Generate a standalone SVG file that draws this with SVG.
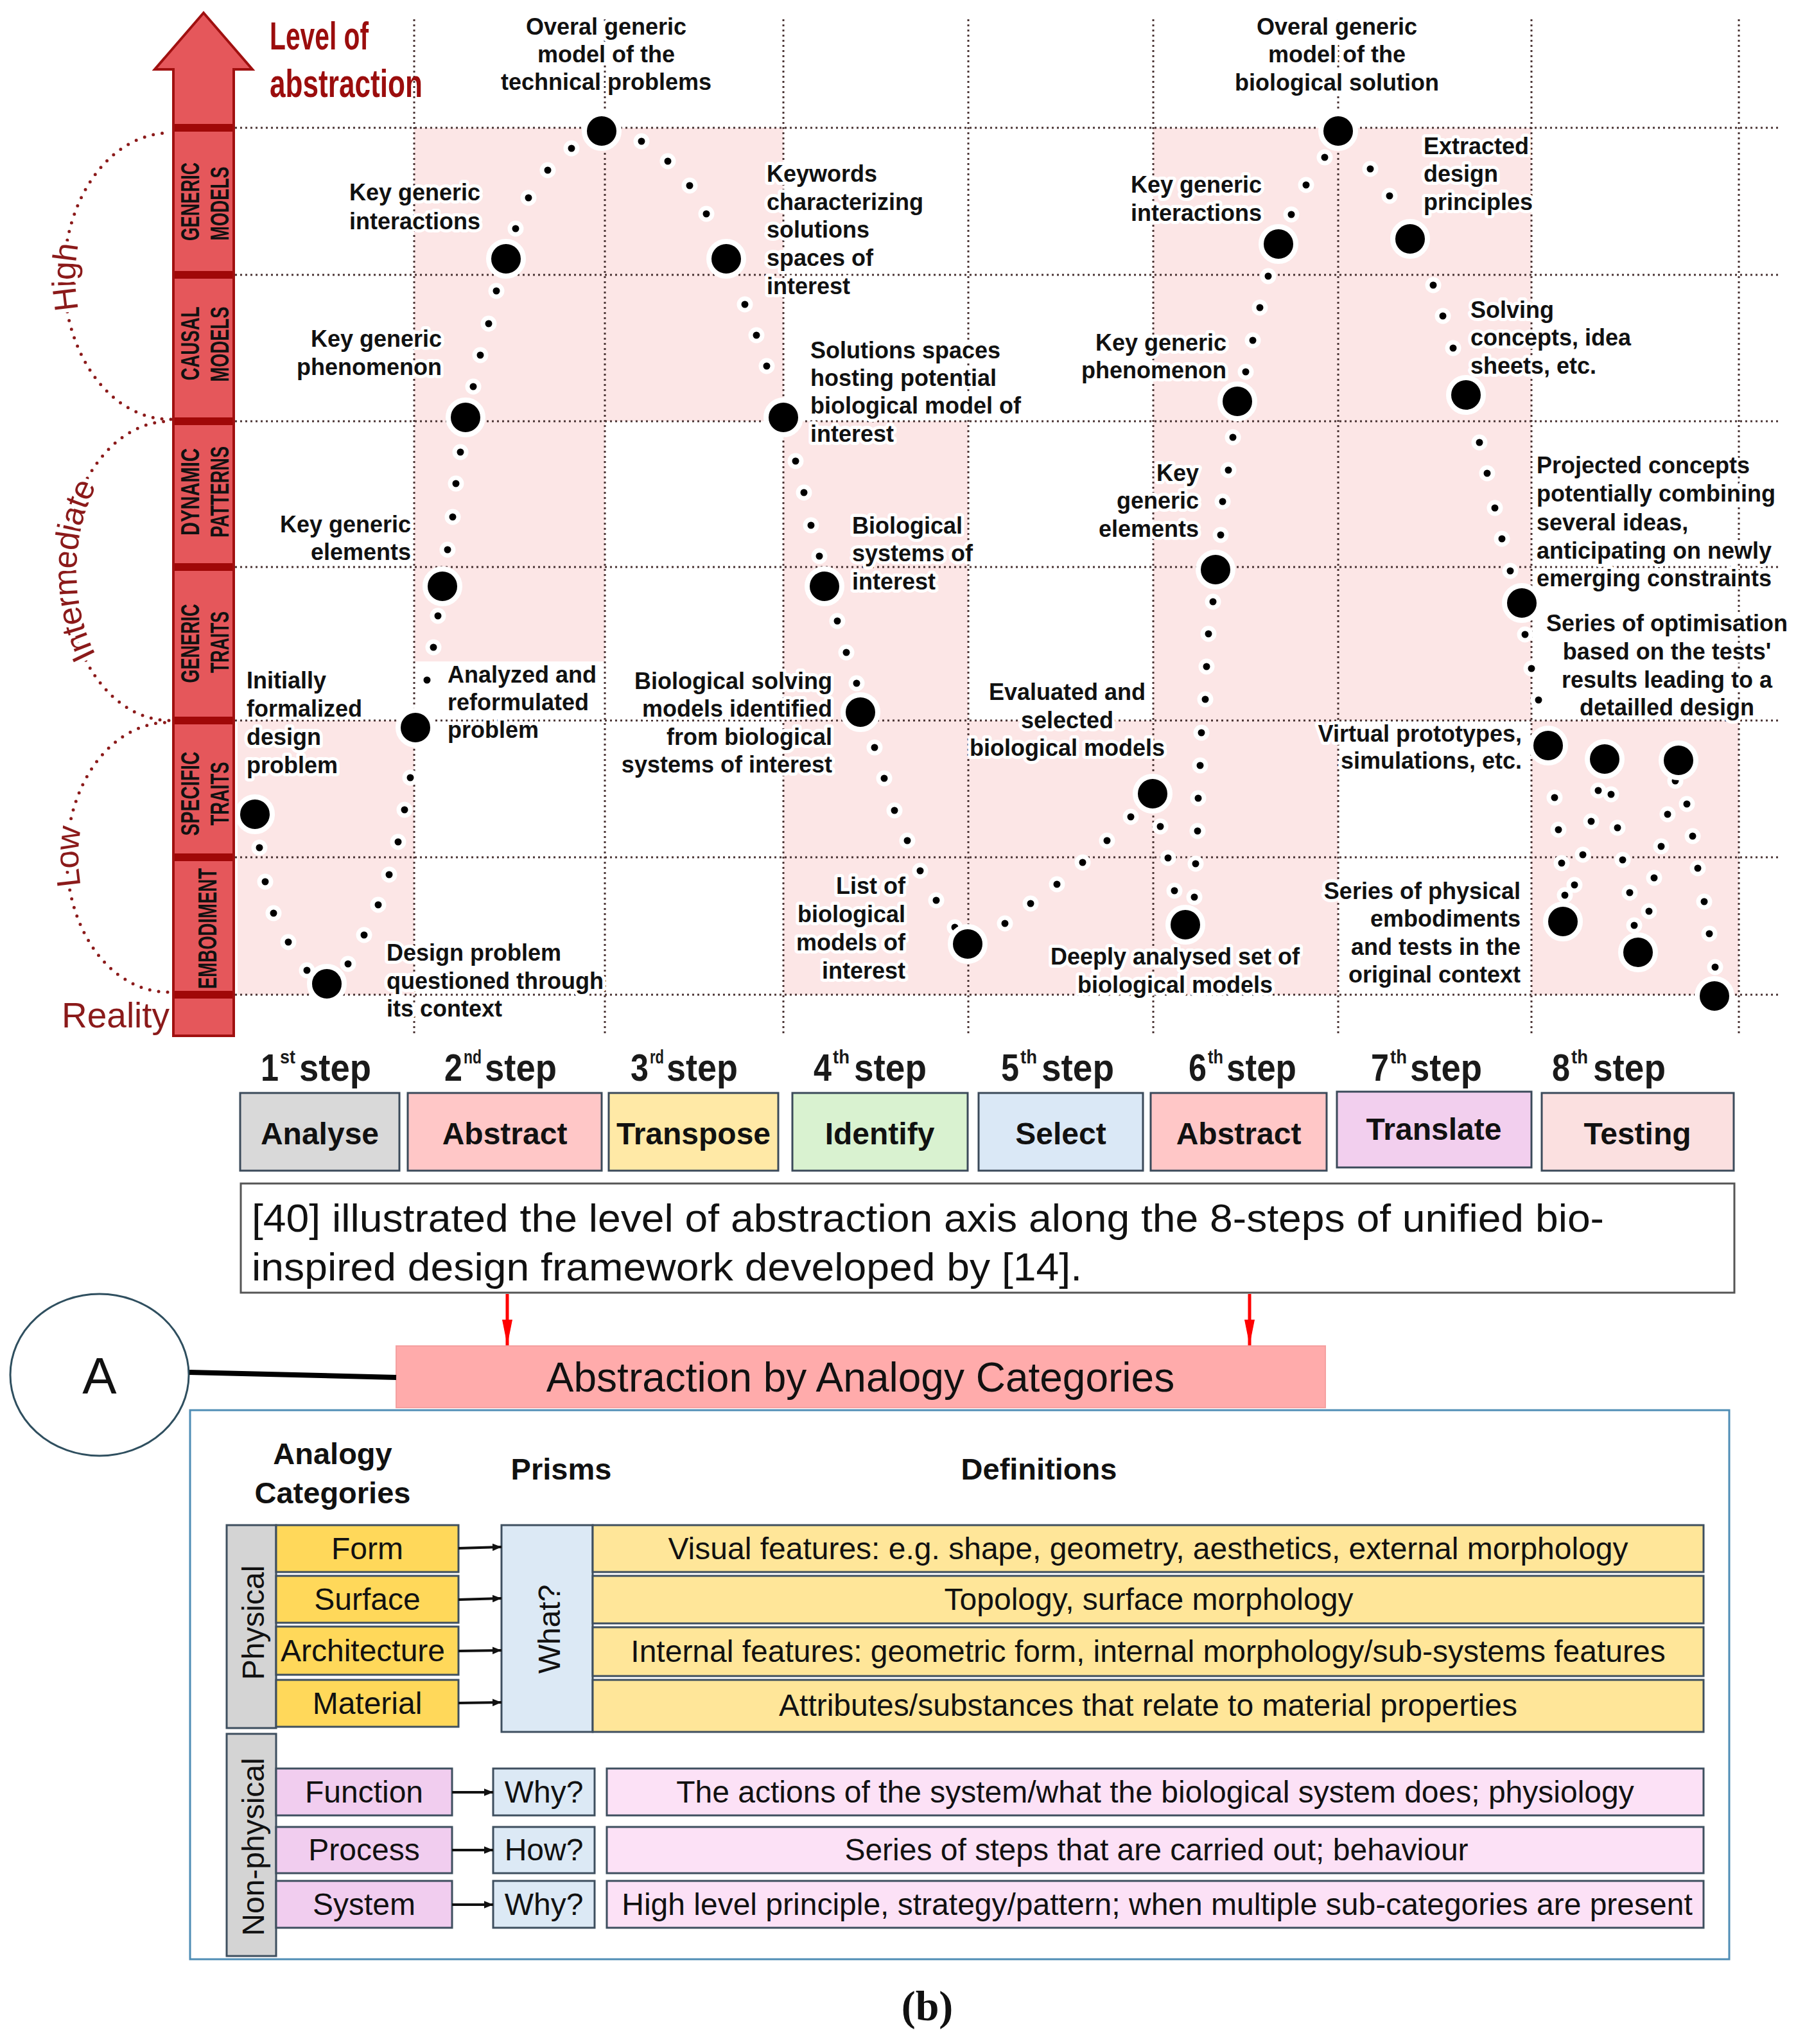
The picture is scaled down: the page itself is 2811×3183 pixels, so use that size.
<svg xmlns="http://www.w3.org/2000/svg" width="2811" height="3183" viewBox="0 0 2811 3183">
<defs>
<style>
.pink{fill:#fce6e6}
.grid{stroke:#4a3434;stroke-width:3;stroke-dasharray:3 5;fill:none}
.bd{fill:#000;stroke:#fff;stroke-width:8}
.sd{fill:#000;stroke:#fff;stroke-width:7}
.lb{font-family:"Liberation Sans",Arial,sans-serif;font-weight:bold;font-size:36px;fill:#111;stroke:#fff;stroke-width:10;paint-order:stroke;stroke-linejoin:round}
.arc{fill:none;stroke:#8b1a1a;stroke-width:5;stroke-linecap:round;stroke-dasharray:0 14}
.lvl{font-family:"Liberation Sans",Arial,sans-serif;font-size:52px;fill:#8b1a1a;stroke:#fff;stroke-width:12;paint-order:stroke}
.bar{font-family:"Liberation Sans",Arial,sans-serif;font-weight:bold;font-size:40px;fill:#111}
.band{fill:#a00808}
.st{font-family:"Liberation Sans",Arial,sans-serif;font-weight:bold;font-size:60px;fill:#1a1a1a}
.sup{font-family:"Liberation Sans",Arial,sans-serif;font-weight:bold;font-size:30px;fill:#1a1a1a}
.sbox{stroke:#3b4a5a;stroke-width:3}
.stx{font-family:"Liberation Sans",Arial,sans-serif;font-weight:bold;font-size:48px;fill:#111;text-anchor:middle}
.tx{font-family:"Liberation Sans",Arial,sans-serif;font-size:48px;fill:#111;text-anchor:middle}
.hd{font-family:"Liberation Sans",Arial,sans-serif;font-weight:bold;font-size:47px;fill:#111;text-anchor:middle}
.bx{stroke:#3e4f5f;stroke-width:3}
.cy{fill:#ffd85a}
.dy{fill:#ffe699}
.cp{fill:#f1cdef}
.dp{fill:#fce1f6}
.pb{fill:#dce9f5}
.gr{fill:#d4d4d4}
</style>
<marker id="ar" viewBox="0 0 12 10" refX="12" refY="5" markerWidth="14" markerHeight="12" markerUnits="userSpaceOnUse" orient="auto"><path d="M0,0 L12,5 L0,10 z" fill="#111"/></marker>
<marker id="rar" viewBox="0 0 40 20" refX="40" refY="10" markerWidth="40" markerHeight="22" markerUnits="userSpaceOnUse" orient="auto"><path d="M0,2 L40,10 L0,18 z" fill="#f00"/></marker>
</defs>
<rect width="2811" height="3183" fill="#fff"/>

<g id="shading">
<rect class="pink" x="370" y="1122" width="275" height="427"/>
<rect class="pink" x="645" y="199" width="297" height="831"/>
<rect class="pink" x="942" y="199" width="278" height="457"/>
<rect class="pink" x="1220" y="656" width="288" height="893"/>
<rect class="pink" x="1508" y="1122" width="288" height="427"/>
<rect class="pink" x="1796" y="199" width="288" height="1350"/>
<rect class="pink" x="2084" y="199" width="301" height="923"/>
<rect class="pink" x="2385" y="1122" width="323" height="427"/>
</g>

<g id="grid">
<path class="grid" d="M645 30V1614M942 30V1614M1220 30V1614M1508 30V1614M1796 30V1614M2084 30V1614M2385 30V1614M2708 30V1614"/>
<path class="grid" d="M366 199H2772M366 428H2772M366 656H2772M366 883H2772M366 1122H2772M366 1335H2772M366 1549H2772"/>
</g>

<g id="axis">
<polygon points="317,20 393,108 364,108 364,1613 270,1613 270,108 241,108" fill="#e5575b" stroke="#a01010" stroke-width="4"/>
<rect class="band" x="272" y="193" width="90" height="12"/>
<rect class="band" x="272" y="422" width="90" height="12"/>
<rect class="band" x="272" y="650" width="90" height="12"/>
<rect class="band" x="272" y="877" width="90" height="12"/>
<rect class="band" x="272" y="1116" width="90" height="12"/>
<rect class="band" x="272" y="1329" width="90" height="12"/>
<rect class="band" x="272" y="1543" width="90" height="12"/>
<text class="bar" transform="translate(310,314) rotate(-90)" text-anchor="middle" textLength="122" lengthAdjust="spacingAndGlyphs">GENERIC</text>
<text class="bar" transform="translate(356,317) rotate(-90)" text-anchor="middle" textLength="115" lengthAdjust="spacingAndGlyphs">MODELS</text>
<text class="bar" transform="translate(310,535) rotate(-90)" text-anchor="middle" textLength="115" lengthAdjust="spacingAndGlyphs">CAUSAL</text>
<text class="bar" transform="translate(356,536) rotate(-90)" text-anchor="middle" textLength="117" lengthAdjust="spacingAndGlyphs">MODELS</text>
<text class="bar" transform="translate(310,766) rotate(-90)" text-anchor="middle" textLength="136" lengthAdjust="spacingAndGlyphs">DYNAMIC</text>
<text class="bar" transform="translate(356,766) rotate(-90)" text-anchor="middle" textLength="142" lengthAdjust="spacingAndGlyphs">PATTERNS</text>
<text class="bar" transform="translate(310,1002) rotate(-90)" text-anchor="middle" textLength="123" lengthAdjust="spacingAndGlyphs">GENERIC</text>
<text class="bar" transform="translate(356,1000) rotate(-90)" text-anchor="middle" textLength="96" lengthAdjust="spacingAndGlyphs">TRAITS</text>
<text class="bar" transform="translate(310,1236) rotate(-90)" text-anchor="middle" textLength="131" lengthAdjust="spacingAndGlyphs">SPECIFIC</text>
<text class="bar" transform="translate(356,1236) rotate(-90)" text-anchor="middle" textLength="99" lengthAdjust="spacingAndGlyphs">TRAITS</text>
<text class="bar" transform="translate(337,1446) rotate(-90)" text-anchor="middle" textLength="188" lengthAdjust="spacingAndGlyphs">EMBODIMENT</text>
<text x="420" y="77" font-family="Liberation Sans, Arial, sans-serif" font-weight="bold" font-size="62" fill="#9b0d0d" textLength="154" lengthAdjust="spacingAndGlyphs">Level of</text>
<text x="420" y="151" font-family="Liberation Sans, Arial, sans-serif" font-weight="bold" font-size="62" fill="#9b0d0d" textLength="238" lengthAdjust="spacingAndGlyphs">abstraction</text>
<path id="arcH" class="arc" d="M266 653 A165 223 0 0 1 263 207"/>
<path id="arcI" class="arc" d="M263 1122 A163 233 0 0 1 265 656"/>
<path id="arcL" class="arc" d="M261 1545 A158 210 0 0 1 263 1125"/>
<text class="lvl" dominant-baseline="central"><textPath href="#arcH" startOffset="50%" text-anchor="middle">High</textPath></text>
<text class="lvl" dominant-baseline="central"><textPath href="#arcI" startOffset="50%" text-anchor="middle">Intermediate</textPath></text>
<text class="lvl" dominant-baseline="central"><textPath href="#arcL" startOffset="50%" text-anchor="middle">Low</textPath></text>
<text x="96" y="1600" font-family="Liberation Sans, Arial, sans-serif" font-size="55" fill="#8b1a1a">Reality</text>
</g>

<g id="curve">
<circle class="sd" cx="404" cy="1320" r="9"/><circle class="sd" cx="413" cy="1373" r="9"/><circle class="sd" cx="426" cy="1422" r="9"/><circle class="sd" cx="449" cy="1467" r="9"/><circle class="sd" cx="478" cy="1511" r="9"/>
<circle class="sd" cx="542" cy="1501" r="9"/><circle class="sd" cx="567" cy="1456" r="9"/><circle class="sd" cx="589" cy="1409" r="9"/><circle class="sd" cx="606" cy="1362" r="9"/><circle class="sd" cx="620" cy="1311" r="9"/><circle class="sd" cx="630" cy="1261" r="9"/><circle class="sd" cx="639" cy="1211" r="9"/>
<circle class="sd" cx="665" cy="1059" r="9"/><circle class="sd" cx="675" cy="1008" r="9"/><circle class="sd" cx="682" cy="959" r="9"/>
<circle class="sd" cx="697" cy="856" r="9"/><circle class="sd" cx="705" cy="805" r="9"/><circle class="sd" cx="710" cy="753" r="9"/><circle class="sd" cx="717" cy="704" r="9"/>
<circle class="sd" cx="737" cy="602" r="9"/><circle class="sd" cx="748" cy="553" r="9"/><circle class="sd" cx="761" cy="504" r="9"/><circle class="sd" cx="773" cy="453" r="9"/>
<circle class="sd" cx="803" cy="356" r="9"/><circle class="sd" cx="823" cy="308" r="9"/><circle class="sd" cx="853" cy="265" r="9"/><circle class="sd" cx="890" cy="231" r="9"/>
<circle class="sd" cx="999" cy="220" r="9"/><circle class="sd" cx="1040" cy="251" r="9"/><circle class="sd" cx="1074" cy="289" r="9"/><circle class="sd" cx="1100" cy="333" r="9"/>
<circle class="sd" cx="1160" cy="474" r="9"/><circle class="sd" cx="1178" cy="522" r="9"/><circle class="sd" cx="1194" cy="570" r="9"/>
<circle class="sd" cx="1239" cy="718" r="9"/><circle class="sd" cx="1252" cy="767" r="9"/><circle class="sd" cx="1263" cy="818" r="9"/><circle class="sd" cx="1276" cy="866" r="9"/>
<circle class="sd" cx="1304" cy="967" r="9"/><circle class="sd" cx="1318" cy="1016" r="9"/><circle class="sd" cx="1334" cy="1064" r="9"/>
<circle class="sd" cx="1362" cy="1164" r="9"/><circle class="sd" cx="1377" cy="1212" r="9"/><circle class="sd" cx="1393" cy="1262" r="9"/><circle class="sd" cx="1413" cy="1309" r="9"/><circle class="sd" cx="1433" cy="1356" r="9"/><circle class="sd" cx="1458" cy="1402" r="9"/><circle class="sd" cx="1487" cy="1444" r="9"/>
<circle class="sd" cx="1565" cy="1438" r="9"/><circle class="sd" cx="1605" cy="1407" r="9"/><circle class="sd" cx="1646" cy="1377" r="9"/><circle class="sd" cx="1686" cy="1343" r="9"/><circle class="sd" cx="1724" cy="1309" r="9"/><circle class="sd" cx="1761" cy="1272" r="9"/>
<circle class="sd" cx="1807" cy="1287" r="9"/><circle class="sd" cx="1819" cy="1336" r="9"/><circle class="sd" cx="1829" cy="1387" r="9"/>
<circle class="sd" cx="1860" cy="1397" r="9"/><circle class="sd" cx="1862" cy="1345" r="9"/><circle class="sd" cx="1865" cy="1294" r="9"/><circle class="sd" cx="1866" cy="1243" r="9"/><circle class="sd" cx="1869" cy="1192" r="9"/><circle class="sd" cx="1871" cy="1141" r="9"/><circle class="sd" cx="1877" cy="1089" r="9"/><circle class="sd" cx="1879" cy="1038" r="9"/><circle class="sd" cx="1882" cy="987" r="9"/><circle class="sd" cx="1889" cy="937" r="9"/>
<circle class="sd" cx="1901" cy="833" r="9"/><circle class="sd" cx="1904" cy="781" r="9"/><circle class="sd" cx="1913" cy="732" r="9"/><circle class="sd" cx="1920" cy="681" r="9"/>
<circle class="sd" cx="1940" cy="579" r="9"/><circle class="sd" cx="1951" cy="530" r="9"/><circle class="sd" cx="1962" cy="479" r="9"/><circle class="sd" cx="1975" cy="430" r="9"/>
<circle class="sd" cx="2011" cy="334" r="9"/><circle class="sd" cx="2034" cy="288" r="9"/><circle class="sd" cx="2063" cy="245" r="9"/>
<circle class="sd" cx="2134" cy="263" r="9"/><circle class="sd" cx="2164" cy="305" r="9"/>
<circle class="sd" cx="2232" cy="444" r="9"/><circle class="sd" cx="2247" cy="492" r="9"/><circle class="sd" cx="2263" cy="542" r="9"/>
<circle class="sd" cx="2304" cy="689" r="9"/><circle class="sd" cx="2316" cy="737" r="9"/><circle class="sd" cx="2328" cy="791" r="9"/><circle class="sd" cx="2339" cy="839" r="9"/><circle class="sd" cx="2352" cy="889" r="9"/>
<circle class="sd" cx="2375" cy="988" r="9"/><circle class="sd" cx="2385" cy="1041" r="9"/><circle class="sd" cx="2396" cy="1090" r="9"/>
<circle class="sd" cx="2421" cy="1242" r="9"/><circle class="sd" cx="2427" cy="1292" r="9"/><circle class="sd" cx="2432" cy="1344" r="9"/><circle class="sd" cx="2452" cy="1378" r="9"/><circle class="sd" cx="2437" cy="1394" r="9"/>
<circle class="sd" cx="2465" cy="1331" r="9"/><circle class="sd" cx="2478" cy="1279" r="9"/><circle class="sd" cx="2489" cy="1231" r="9"/><circle class="sd" cx="2509" cy="1237" r="9"/><circle class="sd" cx="2519" cy="1289" r="9"/><circle class="sd" cx="2527" cy="1339" r="9"/><circle class="sd" cx="2538" cy="1390" r="9"/><circle class="sd" cx="2545" cy="1441" r="9"/>
<circle class="sd" cx="2568" cy="1419" r="9"/><circle class="sd" cx="2576" cy="1367" r="9"/><circle class="sd" cx="2587" cy="1318" r="9"/><circle class="sd" cx="2597" cy="1268" r="9"/><circle class="sd" cx="2609" cy="1216" r="9"/>
<circle class="sd" cx="2627" cy="1252" r="9"/><circle class="sd" cx="2636" cy="1302" r="9"/><circle class="sd" cx="2644" cy="1352" r="9"/><circle class="sd" cx="2654" cy="1404" r="9"/><circle class="sd" cx="2662" cy="1454" r="9"/><circle class="sd" cx="2671" cy="1506" r="9"/>
<circle class="bd" cx="397" cy="1268" r="27"/><circle class="bd" cx="509" cy="1532" r="27"/><circle class="bd" cx="647" cy="1133" r="27"/><circle class="bd" cx="689" cy="913" r="27"/><circle class="bd" cx="725" cy="650" r="27"/><circle class="bd" cx="788" cy="403" r="27"/><circle class="bd" cx="937" cy="204" r="27"/><circle class="bd" cx="1131" cy="403" r="27"/><circle class="bd" cx="1220" cy="650" r="27"/><circle class="bd" cx="1284" cy="913" r="27"/><circle class="bd" cx="1340" cy="1109" r="27"/><circle class="bd" cx="1507" cy="1470" r="27"/><circle class="bd" cx="1795" cy="1236" r="27"/><circle class="bd" cx="1846" cy="1440" r="27"/><circle class="bd" cx="1893" cy="887" r="27"/><circle class="bd" cx="1927" cy="625" r="27"/><circle class="bd" cx="1991" cy="380" r="27"/><circle class="bd" cx="2084" cy="204" r="27"/><circle class="bd" cx="2196" cy="372" r="27"/><circle class="bd" cx="2283" cy="615" r="27"/><circle class="bd" cx="2370" cy="939" r="27"/><circle class="bd" cx="2411" cy="1161" r="27"/><circle class="bd" cx="2499" cy="1182" r="27"/><circle class="bd" cx="2614" cy="1184" r="27"/><circle class="bd" cx="2434" cy="1435" r="27"/><circle class="bd" cx="2551" cy="1483" r="27"/><circle class="bd" cx="2670" cy="1551" r="27"/>
</g>

<g id="chart-labels">
<text class="lb"><tspan x="384" y="1072">Initially</tspan><tspan x="384" y="1116">formalized</tspan><tspan x="384" y="1160">design</tspan><tspan x="384" y="1204">problem</tspan></text>
<text class="lb"><tspan x="602" y="1496">Design problem</tspan><tspan x="602" y="1540">questioned through</tspan><tspan x="602" y="1583">its context</tspan></text>
<text class="lb"><tspan x="697" y="1063">Analyzed and</tspan><tspan x="697" y="1106">reformulated</tspan><tspan x="697" y="1149">problem</tspan></text>
<text class="lb" text-anchor="end"><tspan x="640" y="829">Key generic</tspan><tspan x="640" y="872">elements</tspan></text>
<text class="lb" text-anchor="end"><tspan x="688" y="540">Key generic</tspan><tspan x="688" y="584">phenomenon</tspan></text>
<text class="lb"><tspan x="544" y="312">Key generic</tspan><tspan x="544" y="357">interactions</tspan></text>
<text class="lb" text-anchor="middle"><tspan x="944" y="54">Overal generic</tspan><tspan x="944" y="97">model of the</tspan><tspan x="944" y="140">technical problems</tspan></text>
<text class="lb"><tspan x="1194" y="283">Keywords</tspan><tspan x="1194" y="327">characterizing</tspan><tspan x="1194" y="370">solutions</tspan><tspan x="1194" y="414">spaces of</tspan><tspan x="1194" y="458">interest</tspan></text>
<text class="lb"><tspan x="1262" y="558">Solutions spaces</tspan><tspan x="1262" y="601">hosting potential</tspan><tspan x="1262" y="644">biological model of</tspan><tspan x="1262" y="688">interest</tspan></text>
<text class="lb"><tspan x="1327" y="831">Biological</tspan><tspan x="1327" y="874">systems of</tspan><tspan x="1327" y="918">interest</tspan></text>
<text class="lb" text-anchor="end"><tspan x="1296" y="1073">Biological solving</tspan><tspan x="1296" y="1116">models identified</tspan><tspan x="1296" y="1160">from biological</tspan><tspan x="1296" y="1203">systems of interest</tspan></text>
<text class="lb" text-anchor="end"><tspan x="1410" y="1392">List of</tspan><tspan x="1410" y="1436">biological</tspan><tspan x="1410" y="1480">models of</tspan><tspan x="1410" y="1524">interest</tspan></text>
<text class="lb" text-anchor="middle"><tspan x="1662" y="1090">Evaluated and</tspan><tspan x="1662" y="1134">selected</tspan><tspan x="1662" y="1177">biological models</tspan></text>
<text class="lb" text-anchor="middle"><tspan x="1830" y="1502">Deeply analysed set of</tspan><tspan x="1830" y="1546">biological models</tspan></text>
<text class="lb" text-anchor="end"><tspan x="1867" y="749">Key</tspan><tspan x="1867" y="792">generic</tspan><tspan x="1867" y="836">elements</tspan></text>
<text class="lb" text-anchor="end"><tspan x="1910" y="546">Key generic</tspan><tspan x="1910" y="589">phenomenon</tspan></text>
<text class="lb" text-anchor="end"><tspan x="1965" y="300">Key generic</tspan><tspan x="1965" y="344">interactions</tspan></text>
<text class="lb" text-anchor="middle"><tspan x="2082" y="54">Overal generic</tspan><tspan x="2082" y="97">model of the</tspan><tspan x="2082" y="141">biological solution</tspan></text>
<text class="lb"><tspan x="2217" y="240">Extracted</tspan><tspan x="2217" y="283">design</tspan><tspan x="2217" y="327">principles</tspan></text>
<text class="lb"><tspan x="2290" y="495">Solving</tspan><tspan x="2290" y="538">concepts, idea</tspan><tspan x="2290" y="582">sheets, etc.</tspan></text>
<text class="lb"><tspan x="2393" y="737">Projected concepts</tspan><tspan x="2393" y="781">potentially combining</tspan><tspan x="2393" y="826">several ideas,</tspan><tspan x="2393" y="870">anticipating on newly</tspan><tspan x="2393" y="913">emerging constraints</tspan></text>
<text class="lb" text-anchor="middle"><tspan x="2596" y="983">Series of optimisation</tspan><tspan x="2596" y="1027">based on the tests'</tspan><tspan x="2596" y="1071">results leading to a</tspan><tspan x="2596" y="1114">detailled design</tspan></text>
<text class="lb" text-anchor="end"><tspan x="2370" y="1155">Virtual prototypes,</tspan><tspan x="2370" y="1197">simulations, etc.</tspan></text>
<text class="lb" text-anchor="end"><tspan x="2368" y="1400">Series of physical</tspan><tspan x="2368" y="1443">embodiments</tspan><tspan x="2368" y="1487">and tests in the</tspan><tspan x="2368" y="1530">original context</tspan></text>
</g>

<g id="step-labels">
<text class="st" x="406" y="1683" textLength="28" lengthAdjust="spacingAndGlyphs">1</text><text class="sup" x="436" y="1656" textLength="24" lengthAdjust="spacingAndGlyphs">st</text><text class="st" x="466" y="1683" textLength="112" lengthAdjust="spacingAndGlyphs">step</text>
<text class="st" x="692" y="1683" textLength="28" lengthAdjust="spacingAndGlyphs">2</text><text class="sup" x="722" y="1656" textLength="28" lengthAdjust="spacingAndGlyphs">nd</text><text class="st" x="755" y="1683" textLength="112" lengthAdjust="spacingAndGlyphs">step</text>
<text class="st" x="982" y="1683" textLength="28" lengthAdjust="spacingAndGlyphs">3</text><text class="sup" x="1012" y="1656" textLength="22" lengthAdjust="spacingAndGlyphs">rd</text><text class="st" x="1038" y="1683" textLength="111" lengthAdjust="spacingAndGlyphs">step</text>
<text class="st" x="1267" y="1683" textLength="28" lengthAdjust="spacingAndGlyphs">4</text><text class="sup" x="1297" y="1656" textLength="26" lengthAdjust="spacingAndGlyphs">th</text><text class="st" x="1330" y="1683" textLength="113" lengthAdjust="spacingAndGlyphs">step</text>
<text class="st" x="1559" y="1683" textLength="28" lengthAdjust="spacingAndGlyphs">5</text><text class="sup" x="1589" y="1656" textLength="26" lengthAdjust="spacingAndGlyphs">th</text><text class="st" x="1622" y="1683" textLength="113" lengthAdjust="spacingAndGlyphs">step</text>
<text class="st" x="1851" y="1683" textLength="28" lengthAdjust="spacingAndGlyphs">6</text><text class="sup" x="1881" y="1656" textLength="24" lengthAdjust="spacingAndGlyphs">th</text><text class="st" x="1910" y="1683" textLength="109" lengthAdjust="spacingAndGlyphs">step</text>
<text class="st" x="2135" y="1683" textLength="28" lengthAdjust="spacingAndGlyphs">7</text><text class="sup" x="2165" y="1656" textLength="26" lengthAdjust="spacingAndGlyphs">th</text><text class="st" x="2196" y="1683" textLength="112" lengthAdjust="spacingAndGlyphs">step</text>
<text class="st" x="2417" y="1683" textLength="28" lengthAdjust="spacingAndGlyphs">8</text><text class="sup" x="2447" y="1656" textLength="26" lengthAdjust="spacingAndGlyphs">th</text><text class="st" x="2481" y="1683" textLength="113" lengthAdjust="spacingAndGlyphs">step</text>
</g>

<g id="step-analyse"><rect class="sbox" x="374" y="1702" width="248" height="121" fill="#d9d9d9"/><text class="stx" x="498" y="1782">Analyse</text></g>
<g id="step-abstract1"><rect class="sbox" x="635" y="1702" width="302" height="121" fill="#ffc7c7"/><text class="stx" x="786" y="1782">Abstract</text></g>
<g id="step-transpose"><rect class="sbox" x="948" y="1702" width="264" height="121" fill="#ffe9a6"/><text class="stx" x="1080" y="1782">Transpose</text></g>
<g id="step-identify"><rect class="sbox" x="1234" y="1702" width="273" height="121" fill="#d9f2d0"/><text class="stx" x="1370" y="1782">Identify</text></g>
<g id="step-select"><rect class="sbox" x="1524" y="1702" width="256" height="121" fill="#dae8f6"/><text class="stx" x="1652" y="1782">Select</text></g>
<g id="step-abstract2"><rect class="sbox" x="1792" y="1702" width="274" height="121" fill="#ffc7c7"/><text class="stx" x="1929" y="1782">Abstract</text></g>
<g id="step-translate"><rect class="sbox" x="2082" y="1700" width="303" height="118" fill="#f2cfee"/><text class="stx" x="2233" y="1775">Translate</text></g>
<g id="step-testing"><rect class="sbox" x="2401" y="1702" width="299" height="121" fill="#fbe0e0"/><text class="stx" x="2550" y="1782">Testing</text></g>

<g id="description">
<rect x="375" y="1843" width="2326" height="170" fill="#fff" stroke="#555" stroke-width="3"/>
<text font-family="Liberation Sans, Arial, sans-serif" font-size="62" fill="#111"><tspan x="392" y="1918" textLength="2106" lengthAdjust="spacingAndGlyphs">[40] illustrated the level of abstraction axis along the 8-steps of unified bio-</tspan><tspan x="392" y="1994" textLength="1293" lengthAdjust="spacingAndGlyphs">inspired design framework developed by [14].</tspan></text>
</g>

<g id="node-A">
<ellipse cx="155" cy="2141" rx="139" ry="126" fill="#fff" stroke="#2f4f5f" stroke-width="3"/>
<text x="155" y="2170" text-anchor="middle" font-family="Liberation Sans, Arial, sans-serif" font-size="80" fill="#111">A</text>
</g>

<g id="abstraction-title">
<rect x="617" y="2096" width="1447" height="96" fill="#ffabab" stroke="#f5a0a0" stroke-width="2"/>
<text x="1340" y="2167" text-anchor="middle" font-family="Liberation Sans, Arial, sans-serif" font-size="64" fill="#111">Abstraction by Analogy Categories</text>
</g>

<g id="panel">
<rect x="296" y="2196" width="2397" height="855" fill="#fff" stroke="#4f8db5" stroke-width="3"/>
<text class="hd"><tspan x="518" y="2280">Analogy</tspan><tspan x="518" y="2341">Categories</tspan></text>
<text class="hd" x="874" y="2304">Prisms</text>
<text class="hd" x="1618" y="2304">Definitions</text>
</g>

<g id="group-physical"><rect class="bx gr" x="353" y="2375" width="77" height="316"/><text class="tx" font-size="58" transform="translate(411,2527) rotate(-90)">Physical</text></g>
<g id="group-nonphysical"><rect class="bx gr" x="353" y="2700" width="77" height="346"/><text class="tx" font-size="56" transform="translate(411,2876) rotate(-90)">Non-physical</text></g>

<g id="cat-form"><rect class="bx cy" x="430" y="2375" width="284" height="73"/><text class="tx" x="572" y="2428">Form</text></g>
<g id="cat-surface"><rect class="bx cy" x="430" y="2454" width="284" height="73"/><text class="tx" x="572" y="2507">Surface</text></g>
<g id="cat-architecture"><rect class="bx cy" x="430" y="2533" width="284" height="75"/><text class="tx" x="565" y="2587">Architecture</text></g>
<g id="cat-material"><rect class="bx cy" x="430" y="2616" width="284" height="73"/><text class="tx" x="572" y="2669">Material</text></g>
<g id="prism-what"><rect class="bx pb" x="781" y="2375" width="142" height="322"/><text class="tx" font-size="56" transform="translate(872,2537) rotate(-90)">What?</text></g>

<g id="def-form"><rect class="bx dy" x="923" y="2375" width="1730" height="73"/><text class="tx" x="1788" y="2428">Visual features: e.g. shape, geometry, aesthetics, external morphology</text></g>
<g id="def-surface"><rect class="bx dy" x="923" y="2454" width="1730" height="74"/><text class="tx" x="1789" y="2507">Topology, surface morphology</text></g>
<g id="def-architecture"><rect class="bx dy" x="923" y="2534" width="1730" height="76"/><text class="tx" x="1788" y="2588">Internal features: geometric form, internal morphology/sub-systems features</text></g>
<g id="def-material"><rect class="bx dy" x="923" y="2616" width="1730" height="81"/><text class="tx" x="1788" y="2672">Attributes/substances that relate to material properties</text></g>

<g id="cat-function"><rect class="bx cp" x="430" y="2754" width="274" height="73"/><text class="tx" x="567" y="2807">Function</text></g>
<g id="cat-process"><rect class="bx cp" x="430" y="2845" width="274" height="72"/><text class="tx" x="567" y="2897">Process</text></g>
<g id="cat-system"><rect class="bx cp" x="430" y="2929" width="274" height="73"/><text class="tx" x="567" y="2982">System</text></g>
<g id="prism-why1"><rect class="bx pb" x="768" y="2754" width="158" height="73"/><text class="tx" x="847" y="2807">Why?</text></g>
<g id="prism-how"><rect class="bx pb" x="768" y="2845" width="158" height="72"/><text class="tx" x="847" y="2897">How?</text></g>
<g id="prism-why2"><rect class="bx pb" x="768" y="2929" width="158" height="73"/><text class="tx" x="847" y="2982">Why?</text></g>
<g id="def-function"><rect class="bx dp" x="945" y="2754" width="1708" height="73"/><text class="tx" x="1799" y="2807">The actions of the system/what the biological system does; physiology</text></g>
<g id="def-process"><rect class="bx dp" x="945" y="2845" width="1708" height="72"/><text class="tx" x="1801" y="2897">Series of steps that are carried out; behaviour</text></g>
<g id="def-system"><rect class="bx dp" x="945" y="2929" width="1708" height="73"/><text class="tx" x="1802" y="2982">High level principle, strategy/pattern; when multiple sub-categories are present</text></g>

<g id="connectors" fill="none">
<line x1="790" y1="2015" x2="790" y2="2095" stroke="#f00" stroke-width="5" marker-end="url(#rar)"/>
<line x1="1946" y1="2015" x2="1946" y2="2095" stroke="#f00" stroke-width="5" marker-end="url(#rar)"/>
<line x1="295" y1="2137" x2="617" y2="2145" stroke="#000" stroke-width="8"/>
<g stroke="#111" stroke-width="4">
<line x1="714" y1="2411" x2="781" y2="2409" marker-end="url(#ar)"/>
<line x1="714" y1="2491" x2="781" y2="2489" marker-end="url(#ar)"/>
<line x1="714" y1="2571" x2="781" y2="2570" marker-end="url(#ar)"/>
<line x1="714" y1="2652" x2="781" y2="2651" marker-end="url(#ar)"/>
<line x1="704" y1="2791" x2="768" y2="2791" marker-end="url(#ar)"/>
<line x1="704" y1="2881" x2="768" y2="2881" marker-end="url(#ar)"/>
<line x1="704" y1="2966" x2="768" y2="2966" marker-end="url(#ar)"/>
</g>
</g>

<text x="1444" y="3146" text-anchor="middle" font-family="Liberation Serif, Times New Roman, serif" font-weight="bold" font-size="66" fill="#111">(b)</text>
</svg>
